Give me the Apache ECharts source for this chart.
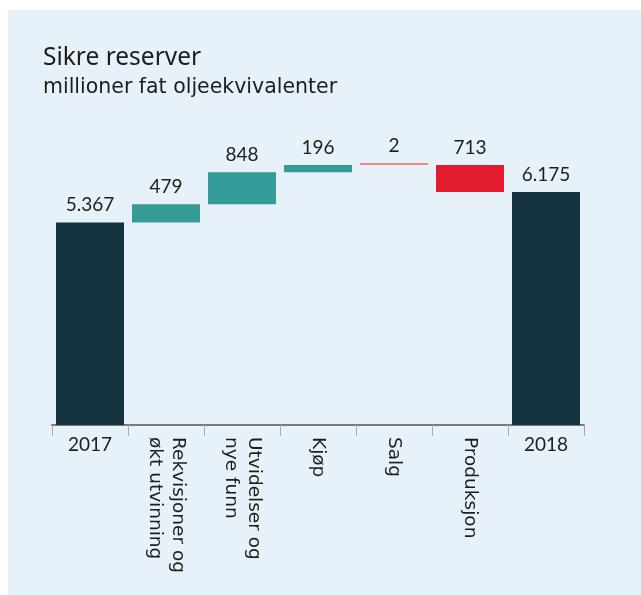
<!DOCTYPE html>
<html>
<head>
<meta charset="utf-8">
<script src="https://cdn.jsdelivr.net/npm/echarts@6/dist/echarts.min.js"></script>
<style>
  html, body { margin: 0; padding: 0; background: #ffffff; }
  #panel { position: absolute; left: 8px; top: 10px; width: 633px; height: 585px; background: #e6f1f9; }
  #chart { position: absolute; left: 0; top: 0; width: 641px; height: 595px; }
</style>
</head>
<body>
<div id="panel"></div>
<div id="chart"></div>
<script>
const titleText = 'Sikre reserver';
const subtitleText = 'millioner fat oljeekvivalenter';
const categories = ['2017', 'Rekvisjoner og\nøkt utvinning', 'Utvidelser og\nnye funn', 'Kjøp', 'Salg', 'Produksjon', '2018'];
const changes = [5367, 479, 848, 196, -2, -713, 6175];
const kinds = ['total', 'up', 'up', 'up', 'down', 'down', 'total'];

const kindColors = { total: '#15333f', up: '#349b98', down: '#e31b2f' };
const smallDownColor = '#ea8a80';
const FONT = 'Lato';
const FONT2 = 'Noto Sans';
const FONT3 = 'DejaVu Sans';

function fmt(v) {
  return String(v).replace(/\B(?=(\d{3})+(?!\d))/g, '.');
}

const bases = [];
const heights = [];
let running = 0;
for (let i = 0; i < changes.length; i++) {
  const v = changes[i];
  if (kinds[i] === 'total') {
    bases.push(0); heights.push(v); running = v;
  } else if (v >= 0) {
    bases.push(running); heights.push(v); running += v;
  } else {
    running += v; bases.push(running); heights.push(-v);
  }
}

const chart = echarts.init(document.getElementById('chart'), null, { renderer: 'canvas' });
const option = {
  backgroundColor: 'transparent',
  animation: false,
  textStyle: { fontFamily: FONT },
  title: {
    text: titleText,
    subtext: subtitleText,
    left: 38,
    top: 41,
    itemGap: 6,
    textStyle: { fontFamily: FONT2, fontSize: 24.5, fontWeight: 'normal', color: '#1d1d1d' },
    subtextStyle: { fontFamily: FONT3, fontSize: 20.5, color: '#1d1d1d' }
  },
  grid: { left: 52, right: 57, top: 123, bottom: 170, containLabel: false },
  xAxis: [
    {
      type: 'category',
      data: categories,
      position: 'bottom',
      axisLine: { show: true, lineStyle: { color: '#7a7a7a', width: 2 } },
      axisTick: { show: true, length: 11, lineStyle: { color: '#a8a8a8', width: 1 } },
      axisLabel: {
        interval: 0,
        rotate: -90,
        margin: 12,
        fontFamily: FONT3,
        fontSize: 18.5,
        lineHeight: 23,
        color: '#1d1d1d',
        formatter: function (v, i) { return kinds[i] === 'total' ? '' : v; }
      }
    },
    {
      type: 'category',
      data: categories,
      position: 'bottom',
      gridIndex: 0,
      axisLine: { show: false },
      axisTick: { show: false },
      axisLabel: {
        interval: 0,
        margin: 10,
        fontFamily: FONT,
        fontSize: 19,
        color: '#1d1d1d',
        formatter: function (v, i) { return kinds[i] === 'total' ? v : ''; }
      }
    }
  ],
  yAxis: {
    type: 'value',
    min: 0,
    max: 8000,
    show: false,
    splitLine: { show: false }
  },
  series: [
    {
      type: 'bar',
      stack: 'wf',
      barWidth: 68,
      silent: true,
      itemStyle: { color: 'transparent' },
      data: bases
    },
    {
      type: 'bar',
      stack: 'wf',
      barWidth: 68,
      barMinHeight: 2,
      data: heights.map(function (h, i) {
        let c = kindColors[kinds[i]];
        if (kinds[i] === 'down' && Math.abs(changes[i]) < 10) c = smallDownColor;
        return { value: h, itemStyle: { color: c } };
      }),
      label: {
        show: true,
        position: 'top',
        distance: 8,
        fontFamily: FONT,
        fontSize: 19,
        color: '#1d1d1d',
        formatter: function (p) { return fmt(Math.abs(changes[p.dataIndex])); }
      }
    }
  ]
};
chart.setOption(option);
</script>
</body>
</html>
